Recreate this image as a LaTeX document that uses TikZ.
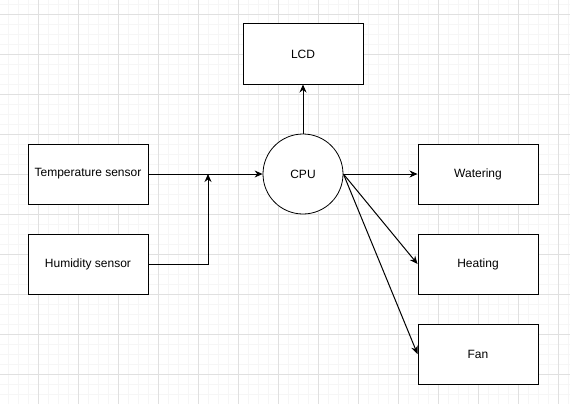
\documentclass[tikz,border=0pt]{standalone}
\usepackage{fontspec}
\setmainfont{Liberation Sans}
\usetikzlibrary{positioning, arrows.meta}
\definecolor{gridmajor}{HTML}{E0E0E0}
\definecolor{gridminor}{HTML}{F6F6F6}

\begin{document}
\begin{tikzpicture}[x=1pt, y=-1pt,
  block/.style={draw, line width=1pt, minimum width=120pt, minimum height=60pt, inner sep=0pt, font=\fontsize{12}{14}\selectfont},
  proc/.style={draw, circle, line width=0.8pt, minimum size=80pt, inner sep=0pt, font=\fontsize{12}{14}\selectfont},
  link/.style={line width=1pt, -{Stealth[length=8pt, width=7pt]}}]
\useasboundingbox (0,0) rectangle (570,404);

% background grid
\foreach \x in {8,18,...,568} \draw[gridminor, line width=0.8pt] (\x,0) -- (\x,404);
\foreach \y in {4,14,...,404} \draw[gridminor, line width=0.8pt] (0,\y) -- (570,\y);
\foreach \x in {38,78,...,558} \draw[gridmajor, line width=0.8pt] (\x,0) -- (\x,404);
\foreach \y in {14,54,...,394} \draw[gridmajor, line width=0.8pt] (0,\y) -- (570,\y);

% blocks
\node[proc, fill=white] (cpu) at (303,174) {CPU};
\node[block, fill=white] (lcd) at (303,54) {LCD};
\node[block, fill=white] (temp) at (88,174) {Temperature sensor};
\node[block, fill=white] (hum) at (88,264) {Humidity sensor};
\node[block, fill=white] (water) at (478,174) {Watering};
\node[block, fill=white] (heat) at (478,264) {Heating};
\node[block, fill=white] (fan) at (478,354) {Fan};
\coordinate (join) at (208,174);

% connections
\draw[link] (temp) -- (cpu);
\draw[link] (hum.east) -| (join);
\draw[link] (cpu) -- (lcd);
\draw[link] (cpu.east) -- (water);
\draw[link] (cpu.east) -- (heat.west);
\draw[link] (cpu.east) -- (fan.west);
\end{tikzpicture}
\end{document}
